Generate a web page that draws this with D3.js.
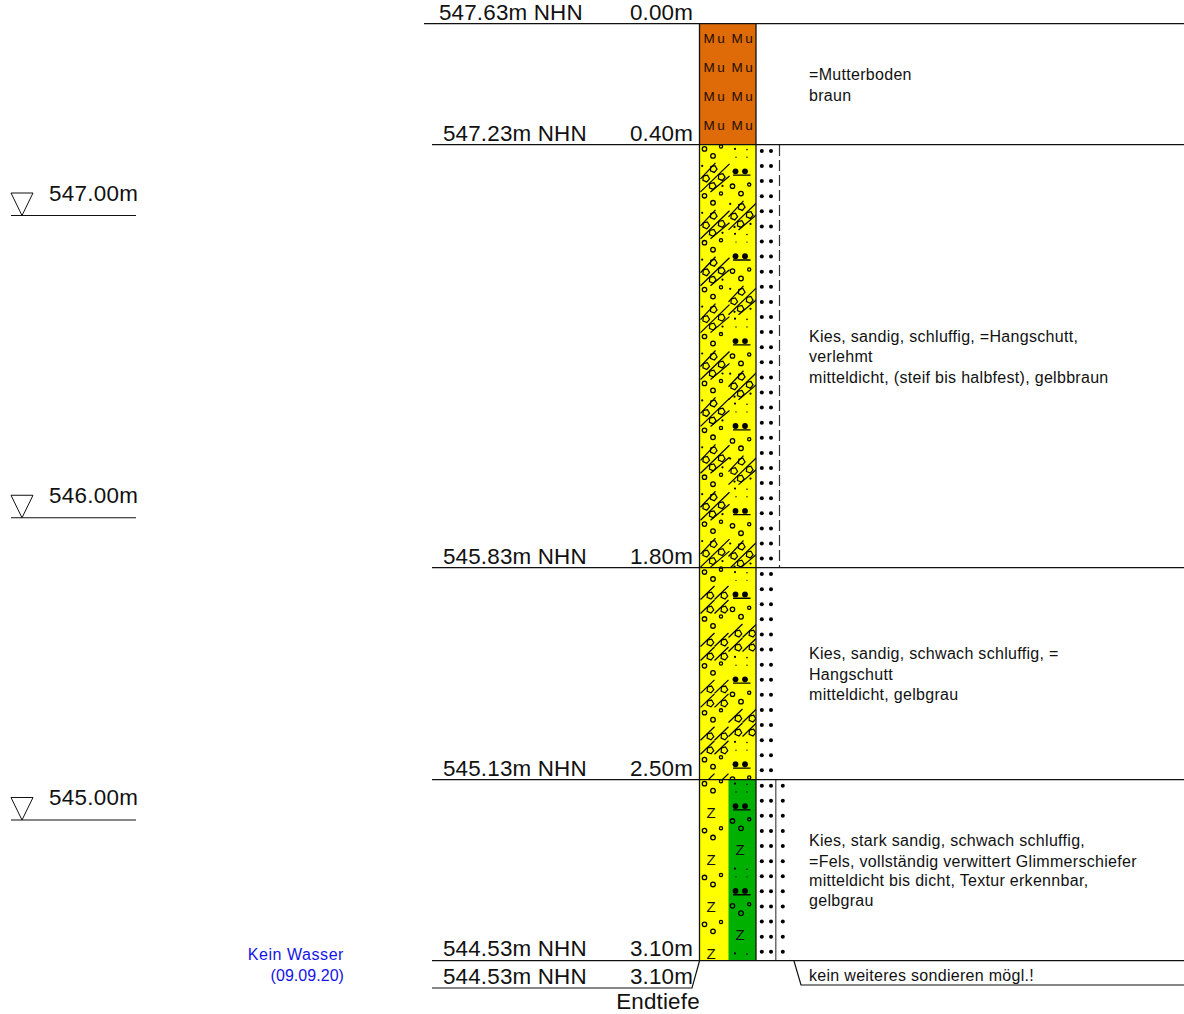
<!DOCTYPE html>
<html><head><meta charset="utf-8">
<script src="https://cdn.jsdelivr.net/npm/d3@7"></script>
<style>html,body{margin:0;padding:0;background:#fff}svg{display:block}text{font-family:"Liberation Sans",Arial,sans-serif;fill:#111}</style>
</head><body><script>
// ---- data ----
const topElevation = 547.63;
const layerTop = [0.00, 0.40, 1.80, 2.50];
const layerBottom = [0.40, 1.80, 2.50, 3.10];
const layerKind = ["mu", "dense", "sparse", "fels"];
const layerText = [
  ["=Mutterboden", "braun"],
  ["Kies, sandig, schluffig, =Hangschutt,", "verlehmt", "mitteldicht, (steif bis halbfest), gelbbraun"],
  ["Kies, sandig, schwach schluffig, =", "Hangschutt", "mitteldicht, gelbgrau"],
  ["Kies, stark sandig, schwach schluffig,", "=Fels, vollständig verwittert Glimmerschiefer", "mitteldicht bis dicht, Textur erkennbar,", "gelbgrau"]
];
const textBaseline = [[80,101],[342,362,383],[659,680,700],[846,867,886,906]];
const waterLevels = [547.00, 546.00, 545.00];
const endDepth = 3.10;
const endNote = "kein weiteres sondieren mögl.!";
const endLabel = "Endtiefe";
const waterNote = ["Kein Wasser", "(09.09.20)"];

// ---- scales ----
const W = 1184, H = 1014;
const yDepth = d3.scaleLinear().domain([0, 3.1]).range([24, 961]);
const yWater = d3.scaleLinear().domain([547, 545]).range([215.5, 820]);
const fmt = d3.format(".2f");

const svg = d3.select("body").append("svg").attr("width", W).attr("height", H);
const defs = svg.append("defs");
const colL = 699.5, colM = 728.5, colR = 756;

const layers = layerTop.map((t, i) => ({t, b: layerBottom[i], kind: layerKind[i], i,
  y0: yDepth(t), y1: yDepth(layerBottom[i])}));

// fills
layers.forEach(l => {
  defs.append("clipPath").attr("id", "c" + l.i).append("rect")
    .attr("x", colL).attr("y", l.y0).attr("width", colR - colL).attr("height", l.y1 - l.y0);
});
const g = svg.append("g");
g.selectAll("rect.fill").data(layers).join("rect").attr("class", "fill")
  .attr("x", colL).attr("width", colR - colL).attr("y", d => d.y0).attr("height", d => d.y1 - d.y0)
  .attr("fill", d => d.kind === "mu" ? "#DE6B08" : "#FFFF00");
g.selectAll("rect.green").data(layers.filter(d => d.kind === "fels")).join("rect")
  .attr("x", colM).attr("width", colR - colM).attr("y", d => d.y0).attr("height", d => d.y1 - d.y0)
  .attr("fill", "#00B000");

function circ(s, x, y, r) { s.append("circle").attr("cx", x).attr("cy", y).attr("r", r).attr("fill", "none").attr("stroke", "#000").attr("stroke-width", 1.3); }
function dot(s, x, y, r) { s.append("circle").attr("cx", x).attr("cy", y).attr("r", r).attr("fill", "#000"); }
function ln(s, x1, y1, x2, y2, w) { s.append("line").attr("x1", x1).attr("y1", y1).attr("x2", x2).attr("y2", y2).attr("stroke", "#000").attr("stroke-width", w || 1.25); }
function penta(s, x, y) {
  const r = 3.6;
  const pts = d3.range(5).map(k => { const a = -Math.PI / 2 + 0.4 + k * 2 * Math.PI / 5; return [x + r * Math.cos(a), y + r * Math.sin(a)]; });
  s.append("polygon").attr("points", pts.join(" ")).attr("fill", "none").attr("stroke", "#000").attr("stroke-width", 1.2);
}
function denseBlock(s, dx, dy) {
  ln(s, dx + 1, dy + 34, dx + 16, dy + 18);
  ln(s, dx + 1, dy + 47, dx + 30, dy + 19);
  ln(s, dx + 11, dy + 47, dx + 30, dy + 31);
  [[14, 24], [6.5, 33.5], [22, 32], [13, 41]].forEach(p => penta(s, dx + p[0], dy + p[1]));
  dot(s, dx + 2.7, dy + 21, 1.1); dot(s, dx + 23, dy + 41, 1.1);
}
function sparseBlock(s, dx, dy) {
  [[0, 0], [14, 0], [0, 14], [14, 14]].forEach(o => {
    ln(s, dx + 1 + o[0], dy + 31.5 + o[1], dx + 15 + o[0], dy + 18 + o[1]);
    penta(s, dx + 10.7 + o[0], dy + 27.5 + o[1]);
  });
}
function lefttile(s, y, kind, y1) {
  circ(s, colL + 5, y + 4, 2.2); circ(s, colL + 21.5, y + 1.6, 1.6); circ(s, colL + 13.5, y + 11, 2.3);
  if (kind === "dense") denseBlock(s, colL, y);
  if (kind === "sparse") sparseBlock(s, colL, y);
  if (kind === "fels" && y + 38 <= y1) s.append("text").attr("x", colL + 11.5).attr("y", y + 38.5).attr("text-anchor", "middle").attr("font-size", 15).text("Z");
}
function righttile(s, y, kind, y1) {
  const x = colL;
  dot(s, x + 35.5, y + 4, 1.1); dot(s, x + 47.5, y + 4.7, 0.8); dot(s, x + 36.5, y + 12.3, 0.7); dot(s, x + 47.5, y + 12.3, 0.7);
  dot(s, x + 36, y + 26.4, 2.9); dot(s, x + 45.5, y + 26.4, 2.9);
  ln(s, x + 33.5, y + 30.2, x + 51, y + 30.2, 1.3);
  circ(s, x + 33, y + 41.3, 2.2); circ(s, x + 49.7, y + 39.7, 1.6); circ(s, x + 41.5, y + 48.7, 2.3);
  if (kind === "dense") { denseBlock(s, colL + 28, y + 38); dot(s, x + 35, y + 82, 1.1); }
  if (kind === "sparse") sparseBlock(s, colL + 28, y + 38);
  if (kind === "fels" && y + 75 <= y1) s.append("text").attr("x", x + 40.5).attr("y", y + 75.5).attr("text-anchor", "middle").attr("font-size", 15).text("Z");
}

layers.forEach(l => {
  const s = g.append("g").attr("clip-path", `url(#c${l.i})`);
  if (l.kind === "mu") {
    d3.range(4).forEach(r => [0, 1].forEach(c => {
      s.append("text").attr("x", 703.5 + c * 28).attr("y", l.y0 + 18.5 + r * 29)
        .attr("font-size", 13.5).attr("letter-spacing", 2.4).style("fill", "#1c0e00").text("Mu");
    }));
  } else {
    d3.range(l.y0, l.y1, 46.9).forEach(y => lefttile(s, y, l.kind, l.y1));
    d3.range(l.y0, l.y1, 84.9).forEach(y => righttile(s, y, l.kind, l.y1));
  }
  // side symbol columns
  const side = svg.append("g");
  if (l.kind !== "mu") {
    const ys = d3.range(l.y0 + 6, l.y1 - 3, 15.1);
    const xs = l.kind === "fels" ? [761.8, 771, 782.8] : [761.8, 771];
    ys.forEach(y => xs.forEach(x => dot(side, x, y, 2)));
  }
  if (l.kind === "dense") side.append("line").attr("x1", 779.5).attr("x2", 779.5).attr("y1", l.y0).attr("y2", l.y1)
    .attr("stroke", "#333").attr("stroke-width", 1.2).attr("stroke-dasharray", "11 4");
  if (l.kind === "fels") side.append("line").attr("x1", 775.8).attr("x2", 775.8).attr("y1", l.y0).attr("y2", l.y1)
    .attr("stroke", "#555").attr("stroke-width", 1.3);
});

// column borders
[colL, colR].forEach(x => svg.append("line").attr("x1", x).attr("x2", x).attr("y1", yDepth(0)).attr("y2", yDepth(endDepth)).attr("stroke", "#111").attr("stroke-width", 1.3));

// horizontal rules
const boundaries = [0].concat(layerBottom);
svg.selectAll("line.rule").data(boundaries).join("line").attr("class", "rule")
  .attr("x1", (d, i) => i === 0 ? 424 : 432).attr("x2", W)
  .attr("y1", d => Math.round(yDepth(d)) - 0.3).attr("y2", d => Math.round(yDepth(d)) - 0.3)
  .attr("stroke", "#111").attr("stroke-width", 1.2);

// depth / elevation labels
const FS = 22.4, LS = 0.17;
const labelLift = [4.5, 3.8, 4.5, 3.8, 5.5];
svg.selectAll("text.elev").data(boundaries).join("text").attr("class", "elev")
  .attr("x", (d, i) => i === 0 ? 439 : 443).attr("y", (d, i) => yDepth(d) - labelLift[i]).attr("font-size", FS).attr("letter-spacing", LS)
  .text(d => fmt(topElevation - d) + "m NHN");
svg.selectAll("text.depth").data(boundaries).join("text").attr("class", "depth")
  .attr("x", 693).attr("text-anchor", "end").attr("y", (d, i) => yDepth(d) - labelLift[i]).attr("font-size", FS).attr("letter-spacing", LS)
  .text(d => fmt(d) + "m");

// end of sounding
const yEnd = yDepth(endDepth);
const endPath = d3.line();
svg.append("path").attr("d", endPath([[432, yEnd + 27], [692, yEnd + 27], [699.5, yEnd]])).attr("fill", "none").attr("stroke", "#111").attr("stroke-width", 1.2);
svg.append("path").attr("d", endPath([[794, yEnd], [801, yEnd + 24], [W, yEnd + 24]])).attr("fill", "none").attr("stroke", "#111").attr("stroke-width", 1.2);
svg.append("text").attr("x", 443).attr("y", yEnd + 23).attr("font-size", FS).attr("letter-spacing", LS).text(fmt(topElevation - endDepth) + "m NHN");
svg.append("text").attr("x", 693).attr("text-anchor", "end").attr("y", yEnd + 23).attr("font-size", FS).attr("letter-spacing", LS).text(fmt(endDepth) + "m");
svg.append("text").attr("x", 658).attr("text-anchor", "middle").attr("y", yEnd + 48).attr("font-size", FS).attr("letter-spacing", LS).text(endLabel);
const DS = 16, DL = 0.3;
svg.append("text").attr("x", 809).attr("y", yEnd + 20).attr("font-size", DS).attr("letter-spacing", DL).text(endNote);

// descriptions
layerText.forEach((lines, i) => {
  svg.selectAll("text.d" + i).data(lines).join("text").attr("class", "d" + i)
    .attr("x", 809).attr("y", (d, k) => textBaseline[i][k]).attr("font-size", DS).attr("letter-spacing", DL).text(d => d);
});

// water levels
const wl = svg.selectAll("g.wl").data(waterLevels).join("g").attr("class", "wl")
  .attr("transform", d => `translate(0,${yWater(d)})`);
wl.append("line").attr("x1", 11).attr("x2", 136).attr("y1", 0).attr("y2", 0).attr("stroke", "#111").attr("stroke-width", 1.2);
wl.append("path").attr("d", d3.line()([[11, -22.5], [33, -22.5], [22, 0]]) + "Z").attr("fill", "none").attr("stroke", "#111");
wl.append("text").attr("x", 49).attr("y", (d, i) => i === 2 ? -15.5 : -14.5).attr("font-size", FS).attr("letter-spacing", 0.3).text(d => fmt(d) + "m");

// note
svg.selectAll("text.note").data(waterNote).join("text").attr("class", "note")
  .attr("x", 344).attr("y", (d, i) => 960 + i * 21).attr("text-anchor", "end").attr("font-size", DS).attr("letter-spacing", (d, i) => i === 0 ? 0.55 : 0.05)
  .style("fill", "#1414e6").text(d => d);
</script></body></html>
